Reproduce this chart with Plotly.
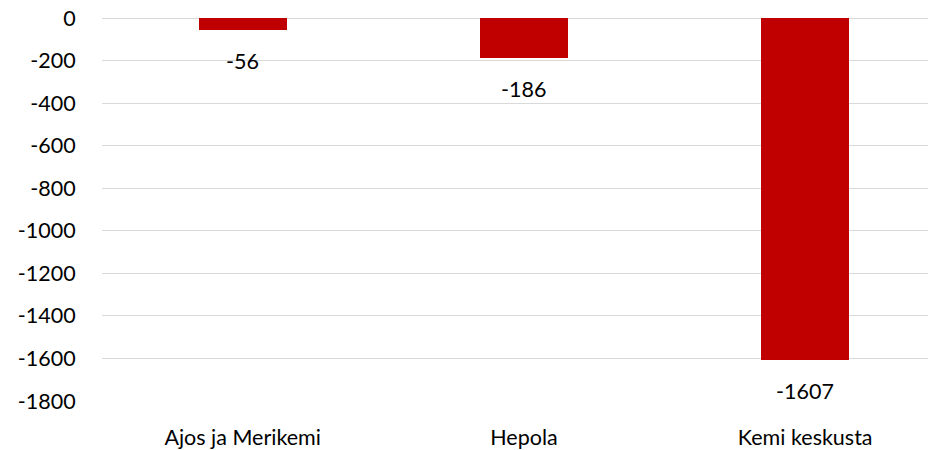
import plotly.graph_objects as go

categories = ["Ajos ja Merikemi", "Hepola", "Kemi keskusta"]
values = [-56, -186, -1607]
tick_vals = [0, -200, -400, -600, -800, -1000, -1200, -1400, -1600, -1800]

FONT = "Lato"
FS = 21.5
fig = go.Figure()
fig.add_trace(go.Bar(
    x=categories, y=values, marker_color="#C00000", width=0.313,
    marker_line_width=0,
))
for c, v in zip(categories, values):
    fig.add_annotation(x=c, y=v, text=str(v), showarrow=False, yshift=-31,
                       font=dict(family=FONT, size=FS, color="#000000"))

# page body has an 8px margin, so the figure is offset by 8px
fig.update_layout(
    width=928, height=442,
    margin=dict(l=94, r=0, t=10, b=49),
    plot_bgcolor="white", paper_bgcolor="white",
    showlegend=False,
    font=dict(family=FONT, size=FS, color="#000000"),
    bargap=0,
)
fig.update_xaxes(range=[-0.5, 2.465], showgrid=False, zeroline=False,
                 showline=False, ticks="outside", ticklen=17, automargin=False,
                 tickcolor="rgba(0,0,0,0)", tickfont=dict(size=FS))
fig.update_yaxes(range=[-1800, 0], tickvals=tick_vals,
                 ticktext=[str(t) for t in tick_vals], automargin=False,
                 ticklabeloverflow="allow",
                 showgrid=True, gridcolor="#D9D9D9", gridwidth=1.3,
                 zeroline=True, zerolinecolor="#D9D9D9", zerolinewidth=1.3,
                 showline=False, ticks="outside", ticklen=21,
                 tickcolor="rgba(0,0,0,0)", tickfont=dict(size=FS))

fig.write_html("out.html")
